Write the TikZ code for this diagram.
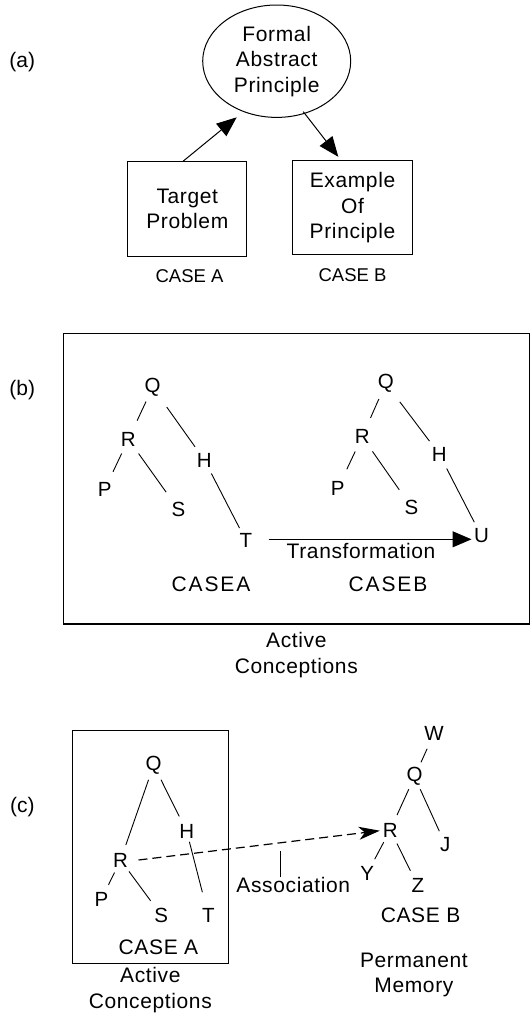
\documentclass[tikz,border=0pt]{standalone}
\usepackage{fontspec}
\setmainfont{Liberation Sans}
\usetikzlibrary{arrows.meta,shapes.geometric}
\begin{document}
\begin{tikzpicture}[x=1pt,y=-1pt,
  word/.style={font=\fontsize{21}{25.5}\selectfont\addfontfeature{LetterSpace=3}, align=center, inner sep=0pt},
  plain/.style={font=\fontsize{21}{25}\selectfont, align=center, inner sep=0pt},
  small/.style={font=\fontsize{18.5}{25}\selectfont, align=center, inner sep=0pt},
  wide/.style={font=\fontsize{21}{25}\selectfont\addfontfeature{LetterSpace=9}, inner sep=0pt},
  ltr/.style={font=\fontsize{20.5}{22}\selectfont, circle, inner sep=0pt, minimum size=26pt},
  edge/.style={line width=0.9pt},
  bigarrow/.style={line width=1pt, -{Triangle[length=20pt,width=16pt]}},
  dasharrow/.style={line width=1.2pt, dash pattern=on 9pt off 5pt, -{Stealth[length=21pt,width=13pt,inset=6pt]}},
  framebox/.style={draw, inner sep=0pt, line width=1pt}
]
\useasboundingbox (0,0) rectangle (530,1015);

% ---------------- (a) ----------------
\node[plain] (la) at (22.3,62) {(a)};
\node[ellipse, draw, line width=1pt, minimum width=148pt, minimum height=112.4pt, inner sep=0pt, word] (fap) at (276.7,61.2) {Formal\\Abstract\\Principle};
\node[framebox, minimum width=119.3pt, minimum height=94.5pt, word] (tp) at (187.3,208.8) {Target\\Problem};
\node[framebox, minimum width=119.3pt, minimum height=94pt, word] (ex) at (352.5,207.7) {Example\\Of\\Principle};
\node[small] (caseAa) at (189.5,276.5) {CASE A};
\node[small] (caseBa) at (352.5,275.5) {CASE B};
\draw[bigarrow] ([xshift=-4pt]tp.north) -- ([xshift=-40pt,yshift=-56.1pt]fap.center);
\draw[bigarrow] ([xshift=26.6pt,yshift=-50.5pt]fap.center) -- ([xshift=-14.2pt,yshift=3.4pt]ex.north);

% ---------------- (b) ----------------
\node[plain] (lb) at (22.3,390.5) {(b)};
\node[draw, line width=1.4pt, inner sep=0pt, minimum width=466pt, minimum height=290.5pt] (boxb) at (296.3,478.75) {};
\node[ltr] (bQ) at (152.7,387.3) {Q};
\node[ltr] (bR) at (128.4,439.3) {R};
\node[ltr] (bH) at (204.4,460) {H};
\node[ltr] (bP) at (104.7,489.3) {P};
\node[ltr] (bS) at (178.4,509.3) {S};
\node[ltr] (bT) at (246,540.7) {T};
\draw[edge, shorten <=2.6pt, shorten >=7.4pt] (bQ) -- (bR);
\draw[edge, shorten <=11pt, shorten >=3pt] (bQ) -- (bH);
\draw[edge, shorten <=2.5pt, shorten >=6.2pt] (bR) -- (bP);
\draw[edge, shorten <=4.3pt, shorten >=7.9pt] (bR) -- (bS);
\draw[edge, shorten <=2pt, shorten >=1pt] (bH) -- (bT);

\node[ltr] (bQ2) at (385.8,383.3) {Q};
\node[ltr] (bR2) at (362.2,436.7) {R};
\node[ltr] (bH2) at (439.2,454) {H};
\node[ltr] (bP2) at (337.8,488.3) {P};
\node[ltr] (bS2) at (411.5,507.3) {S};
\node[ltr] (bU) at (481.4,536) {U};
\draw[edge, shorten <=4pt, shorten >=7.3pt] (bQ2) -- (bR2);
\draw[edge, shorten <=10pt, shorten >=2.9pt] (bQ2) -- (bH2);
\draw[edge, shorten <=3.2pt, shorten >=7.9pt] (bR2) -- (bP2);
\draw[edge, shorten <=4.7pt, shorten >=8.1pt] (bR2) -- (bS2);
\draw[edge, shorten <=3.1pt, shorten >=2.4pt] (bH2) -- (bU);

\draw[line width=1pt, -{Triangle[length=19pt,width=16pt]}] ([xshift=9.3pt,yshift=1.4pt]bT.east) -- ([xshift=3.3pt,yshift=-3.3pt]bU.west);
\node[word] (trans) at (361,551) {Transformation};
\node[wide] (caseAb) at (211,584) {CASEA};
\node[wide] (caseBb) at (388,584) {CASEB};
\node[word] (actb) at (296.3,655) {Active\\Conceptions};

% ---------------- (c) ----------------
\node[plain] (lc) at (22.3,807) {(c)};
\node[framebox, minimum width=156.1pt, minimum height=233.3pt] (boxc) at (150.65,846.65) {};
\node[ltr] (cQ) at (153.7,765) {Q};
\node[ltr] (cH) at (186.8,831.7) {H};
\node[ltr] (cR) at (120.6,860) {R};
\node[ltr] (cP) at (101.4,899.3) {P};
\node[ltr] (cS) at (161.1,915) {S};
\node[ltr] (cT) at (208.4,915.7) {T};
\draw[edge, shorten <=2.5pt, shorten >=2.6pt] (cQ) -- (cR);
\draw[edge, shorten <=3.2pt, shorten >=3.8pt] (cQ) -- (cH);
\draw[edge, shorten <=0.8pt, shorten >=2.9pt] (cR) -- (cP);
\draw[edge, shorten <=1pt, shorten >=4.5pt] (cR) -- (cS);
\draw[edge, shorten <=-2.8pt, shorten >=11pt] (cH) -- (cT);
\node[word] (caseAc) at (158.5,947.3) {CASE A};
\node[word] (actc) at (150.3,990) {Active\\Conceptions};

\node[ltr] (cW) at (434.1,733.3) {W};
\node[ltr] (cQ2) at (414.5,776.7) {Q};
\node[ltr] (cR2) at (390.2,830) {R};
\node[ltr] (cJ) at (445.3,844.3) {J};
\node[ltr] (cY) at (367.2,873.3) {Y};
\node[ltr] (cZ) at (417.9,885.7) {Z};
\draw[edge, shorten <=3.7pt, shorten >=2.6pt] (cW) -- (cQ2);
\draw[edge, shorten <=0.5pt, shorten >=3.2pt] (cQ2) -- (cR2);
\draw[edge, shorten <=0.6pt, shorten >=1.3pt] (cQ2) -- (cJ);
\draw[edge, shorten <=0.6pt, shorten >=2.7pt] (cR2) -- (cY);
\draw[edge, shorten <=2pt, shorten >=3.5pt] (cR2) -- (cZ);
\node[word] (caseBc) at (420.6,915) {CASE B};
\node[word] (perm) at (413.9,975) {Permanent\\Memory};

\draw[dasharrow] ([xshift=4.7pt]cR.east) -- ([xshift=2.8pt,yshift=-0.7pt]cR2.west);
\node[word] (assoc) at (293.3,885) {Association};
\coordinate (tickTop) at (280.5,850.7);
\draw[edge] (assoc.north -| tickTop) -- (tickTop);
\end{tikzpicture}
\end{document}
